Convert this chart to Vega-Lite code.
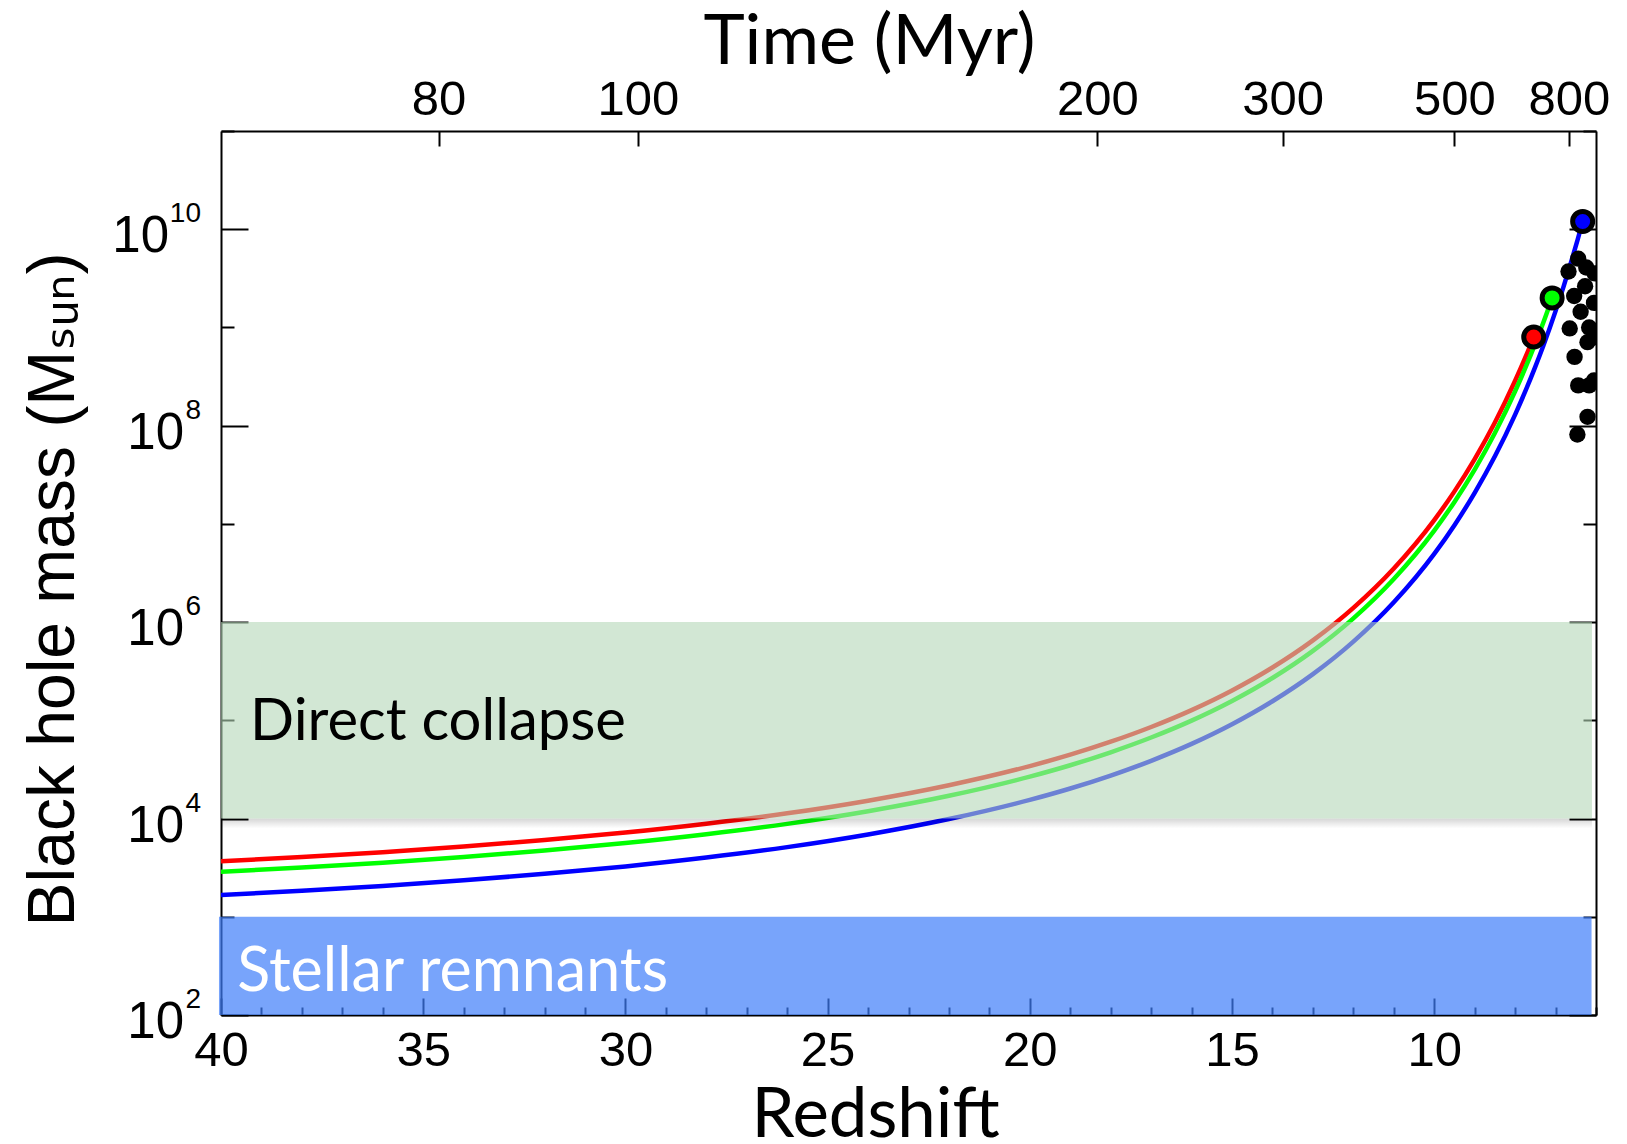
{
  "$schema": "https://vega.github.io/schema/vega-lite/v6.json",
  "width": 1375,
  "height": 884,
  "autosize": {"type": "none"},
  "padding": {"left": 221, "top": 131, "right": 31, "bottom": 129},
  "background": "white",
  "config": {
    "view": {"stroke": null},
    "axis": {
      "domainColor": "#000000",
      "domainWidth": 2,
      "tickColor": "#000000",
      "tickWidth": 2,
      "labelColor": "#000000",
      "labelFont": "Liberation Sans",
      "labelFontSize": 49,
      "labelFlush": false,
      "labelOverlap": false,
      "grid": false,
      "titleColor": "#000000",
      "titleFontWeight": "normal"
    }
  },
  "datasets": {
    "tracks": [
      {"quasar": "ULAS J1342+0928", "z": 40, "logM": 3.565},
      {"quasar": "ULAS J1342+0928", "z": 38, "logM": 3.609},
      {"quasar": "ULAS J1342+0928", "z": 36, "logM": 3.658},
      {"quasar": "ULAS J1342+0928", "z": 34, "logM": 3.715},
      {"quasar": "ULAS J1342+0928", "z": 32, "logM": 3.781},
      {"quasar": "ULAS J1342+0928", "z": 30, "logM": 3.857},
      {"quasar": "ULAS J1342+0928", "z": 28, "logM": 3.947},
      {"quasar": "ULAS J1342+0928", "z": 26, "logM": 4.053},
      {"quasar": "ULAS J1342+0928", "z": 24, "logM": 4.182},
      {"quasar": "ULAS J1342+0928", "z": 22, "logM": 4.339},
      {"quasar": "ULAS J1342+0928", "z": 20, "logM": 4.534},
      {"quasar": "ULAS J1342+0928", "z": 19, "logM": 4.650},
      {"quasar": "ULAS J1342+0928", "z": 18, "logM": 4.782},
      {"quasar": "ULAS J1342+0928", "z": 17, "logM": 4.932},
      {"quasar": "ULAS J1342+0928", "z": 16, "logM": 5.104},
      {"quasar": "ULAS J1342+0928", "z": 15, "logM": 5.304},
      {"quasar": "ULAS J1342+0928", "z": 14, "logM": 5.538},
      {"quasar": "ULAS J1342+0928", "z": 13, "logM": 5.814},
      {"quasar": "ULAS J1342+0928", "z": 12, "logM": 6.145},
      {"quasar": "ULAS J1342+0928", "z": 11, "logM": 6.546},
      {"quasar": "ULAS J1342+0928", "z": 10, "logM": 7.039},
      {"quasar": "ULAS J1342+0928", "z": 9.5, "logM": 7.331},
      {"quasar": "ULAS J1342+0928", "z": 9, "logM": 7.660},
      {"quasar": "ULAS J1342+0928", "z": 8.5, "logM": 8.032},
      {"quasar": "ULAS J1342+0928", "z": 8, "logM": 8.457},
      {"quasar": "ULAS J1342+0928", "z": 7.75, "logM": 8.692},
      {"quasar": "ULAS J1342+0928", "z": 7.54, "logM": 8.903},
      {"quasar": "ULAS J1120+0641", "z": 40, "logM": 3.458},
      {"quasar": "ULAS J1120+0641", "z": 38, "logM": 3.502},
      {"quasar": "ULAS J1120+0641", "z": 36, "logM": 3.551},
      {"quasar": "ULAS J1120+0641", "z": 34, "logM": 3.608},
      {"quasar": "ULAS J1120+0641", "z": 32, "logM": 3.674},
      {"quasar": "ULAS J1120+0641", "z": 30, "logM": 3.750},
      {"quasar": "ULAS J1120+0641", "z": 28, "logM": 3.840},
      {"quasar": "ULAS J1120+0641", "z": 26, "logM": 3.946},
      {"quasar": "ULAS J1120+0641", "z": 24, "logM": 4.075},
      {"quasar": "ULAS J1120+0641", "z": 22, "logM": 4.232},
      {"quasar": "ULAS J1120+0641", "z": 20, "logM": 4.427},
      {"quasar": "ULAS J1120+0641", "z": 19, "logM": 4.543},
      {"quasar": "ULAS J1120+0641", "z": 18, "logM": 4.675},
      {"quasar": "ULAS J1120+0641", "z": 17, "logM": 4.825},
      {"quasar": "ULAS J1120+0641", "z": 16, "logM": 4.997},
      {"quasar": "ULAS J1120+0641", "z": 15, "logM": 5.197},
      {"quasar": "ULAS J1120+0641", "z": 14, "logM": 5.431},
      {"quasar": "ULAS J1120+0641", "z": 13, "logM": 5.707},
      {"quasar": "ULAS J1120+0641", "z": 12, "logM": 6.038},
      {"quasar": "ULAS J1120+0641", "z": 11, "logM": 6.439},
      {"quasar": "ULAS J1120+0641", "z": 10, "logM": 6.932},
      {"quasar": "ULAS J1120+0641", "z": 9.5, "logM": 7.224},
      {"quasar": "ULAS J1120+0641", "z": 9, "logM": 7.553},
      {"quasar": "ULAS J1120+0641", "z": 8.5, "logM": 7.925},
      {"quasar": "ULAS J1120+0641", "z": 8, "logM": 8.350},
      {"quasar": "ULAS J1120+0641", "z": 7.75, "logM": 8.585},
      {"quasar": "ULAS J1120+0641", "z": 7.5, "logM": 8.838},
      {"quasar": "ULAS J1120+0641", "z": 7.3, "logM": 9.053},
      {"quasar": "ULAS J1120+0641", "z": 7.085, "logM": 9.301},
      {"quasar": "SDSS J0100+2802", "z": 40, "logM": 3.221},
      {"quasar": "SDSS J0100+2802", "z": 38, "logM": 3.265},
      {"quasar": "SDSS J0100+2802", "z": 36, "logM": 3.314},
      {"quasar": "SDSS J0100+2802", "z": 34, "logM": 3.371},
      {"quasar": "SDSS J0100+2802", "z": 32, "logM": 3.437},
      {"quasar": "SDSS J0100+2802", "z": 30, "logM": 3.513},
      {"quasar": "SDSS J0100+2802", "z": 28, "logM": 3.603},
      {"quasar": "SDSS J0100+2802", "z": 26, "logM": 3.709},
      {"quasar": "SDSS J0100+2802", "z": 24, "logM": 3.838},
      {"quasar": "SDSS J0100+2802", "z": 22, "logM": 3.995},
      {"quasar": "SDSS J0100+2802", "z": 20, "logM": 4.190},
      {"quasar": "SDSS J0100+2802", "z": 19, "logM": 4.306},
      {"quasar": "SDSS J0100+2802", "z": 18, "logM": 4.438},
      {"quasar": "SDSS J0100+2802", "z": 17, "logM": 4.588},
      {"quasar": "SDSS J0100+2802", "z": 16, "logM": 4.760},
      {"quasar": "SDSS J0100+2802", "z": 15, "logM": 4.960},
      {"quasar": "SDSS J0100+2802", "z": 14, "logM": 5.194},
      {"quasar": "SDSS J0100+2802", "z": 13, "logM": 5.470},
      {"quasar": "SDSS J0100+2802", "z": 12, "logM": 5.801},
      {"quasar": "SDSS J0100+2802", "z": 11, "logM": 6.202},
      {"quasar": "SDSS J0100+2802", "z": 10, "logM": 6.695},
      {"quasar": "SDSS J0100+2802", "z": 9.5, "logM": 6.987},
      {"quasar": "SDSS J0100+2802", "z": 9, "logM": 7.316},
      {"quasar": "SDSS J0100+2802", "z": 8.5, "logM": 7.688},
      {"quasar": "SDSS J0100+2802", "z": 8, "logM": 8.113},
      {"quasar": "SDSS J0100+2802", "z": 7.75, "logM": 8.348},
      {"quasar": "SDSS J0100+2802", "z": 7.5, "logM": 8.601},
      {"quasar": "SDSS J0100+2802", "z": 7.3, "logM": 8.816},
      {"quasar": "SDSS J0100+2802", "z": 7, "logM": 9.166},
      {"quasar": "SDSS J0100+2802", "z": 6.8, "logM": 9.418},
      {"quasar": "SDSS J0100+2802", "z": 6.6, "logM": 9.687},
      {"quasar": "SDSS J0100+2802", "z": 6.45, "logM": 9.900},
      {"quasar": "SDSS J0100+2802", "z": 6.33, "logM": 10.079}
    ],
    "hosts": [
      {"quasar": "ULAS J1342+0928", "z": 7.54, "logM": 8.903},
      {"quasar": "ULAS J1120+0641", "z": 7.085, "logM": 9.301},
      {"quasar": "SDSS J0100+2802", "z": 6.33, "logM": 10.079}
    ],
    "sample": [
      {"z": 6.44, "logM": 9.70},
      {"z": 6.68, "logM": 9.57},
      {"z": 6.24, "logM": 9.61},
      {"z": 6.27, "logM": 9.42},
      {"z": 6.54, "logM": 9.32},
      {"z": 6.38, "logM": 9.16},
      {"z": 6.17, "logM": 9.00},
      {"z": 6.65, "logM": 8.99},
      {"z": 6.21, "logM": 8.85},
      {"z": 6.53, "logM": 8.70},
      {"z": 6.44, "logM": 8.41},
      {"z": 6.17, "logM": 8.41},
      {"z": 6.21, "logM": 8.09},
      {"z": 6.46, "logM": 7.91},
      {"z": 6.03, "logM": 9.55},
      {"z": 6.05, "logM": 9.25},
      {"z": 6.04, "logM": 8.90},
      {"z": 6.05, "logM": 8.46}
    ],
    "seeds": [
      {"seed": "Direct collapse", "lo": 4, "hi": 6},
      {"seed": "Stellar remnants", "lo": 2, "hi": 3}
    ],
    "decades": [
      {"logM": 2, "base": "10", "exp": "2"},
      {"logM": 4, "base": "10", "exp": "4"},
      {"logM": 6, "base": "10", "exp": "6"},
      {"logM": 8, "base": "10", "exp": "8"},
      {"logM": 10, "base": "10", "exp": "10"}
    ]
  },
  "layer": [
    {
      "data": {"name": "tracks"},
      "mark": {"type": "line", "strokeWidth": 4.5, "interpolate": "monotone", "clip": true},
      "encoding": {
        "x": {
          "field": "z", "type": "quantitative",
          "scale": {"domain": [40, 6]},
          "axis": {
            "orient": "bottom",
            "values": [6, 7, 8, 9, 10, 11, 12, 13, 14, 15, 16, 17, 18, 19, 20, 21, 22, 23, 24, 25, 26, 27, 28, 29, 30, 31, 32, 33, 34, 35, 36, 37, 38, 39, 40],
            "labelExpr": "datum.value % 5 === 0 ? datum.label : ''",
            "tickSize": {"condition": {"test": "datum.value % 5 === 0", "value": -17}, "value": -8},
            "labelPadding": 67,
            "labelBaseline": "alphabetic",
            "title": "Redshift",
            "titleFont": "Lato",
            "titleFontSize": 69,
            "titleAlign": "center",
            "titleBaseline": "alphabetic",
            "titleX": 654,
            "titleY": 121
          }
        },
        "y": {
          "field": "logM", "type": "quantitative",
          "scale": {"domain": [2, 11]},
          "axis": {
            "orient": "left",
            "values": [2, 3, 4, 5, 6, 7, 8, 9, 10, 11],
            "labels": false,
            "tickSize": {"condition": {"test": "datum.value % 2 === 0", "value": -27}, "value": -13},
            "title": "Black hole mass (Mₛᵤₙ)",
            "titleFont": "Liberation Sans, DejaVu Sans",
            "titleFontSize": 66,
            "titleAngle": 270,
            "titleAlign": "center",
            "titleBaseline": "alphabetic",
            "titleX": -148,
            "titleY": 458
          }
        },
        "color": {
          "field": "quasar", "type": "nominal",
          "scale": {"domain": ["ULAS J1342+0928", "ULAS J1120+0641", "SDSS J0100+2802"], "range": ["#ff0000", "#00ff00", "#0000ff"]},
          "legend": null
        },
        "order": {"field": "z", "sort": "descending"}
      }
    },
    {
      "data": {"values": [{"edge": "shadow"}]},
      "mark": {
        "type": "rect",
        "fill": {
          "gradient": "linear", "x1": 0, "y1": 0, "x2": 0, "y2": 1,
          "stops": [
            {"offset": 0, "color": "rgba(0,0,0,0.16)"},
            {"offset": 1, "color": "rgba(0,0,0,0)"}
          ]
        }
      },
      "encoding": {
        "x": {"datum": 40, "type": "quantitative", "scale": {"domain": [40, 6]}, "axis": null},
        "x2": {"datum": 6.1},
        "y": {"datum": 4, "type": "quantitative", "scale": {"domain": [2, 11]}, "axis": null},
        "y2": {"datum": 3.9}
      }
    },
    {
      "data": {"name": "seeds"},
      "transform": [{"filter": "datum.seed === 'Direct collapse'"}],
      "mark": {"type": "rect", "fill": "#b4d7b7", "opacity": 0.6},
      "encoding": {
        "x": {
          "datum": 40, "type": "quantitative",
          "scale": {"domain": [40, 6]},
          "axis": {
            "orient": "top",
            "values": [34.62, 29.69, 18.33, 13.75, 9.5, 6.67],
            "labelExpr": "datum.value > 34 ? '80' : datum.value > 29 ? '100' : datum.value > 18 ? '200' : datum.value > 13 ? '300' : datum.value > 9 ? '500' : '800'",
            "tickSize": -15,
            "labelPadding": 32,
            "labelBaseline": "alphabetic",
            "title": "Time (Myr)",
            "titleFont": "Lato",
            "titleFontSize": 70,
            "titleAlign": "center",
            "titleBaseline": "alphabetic",
            "titleX": 648,
            "titleY": -68
          }
        },
        "x2": {"datum": 6.1},
        "y": {
          "field": "hi", "type": "quantitative",
          "scale": {"domain": [2, 11]},
          "axis": {
            "orient": "right",
            "values": [2, 3, 4, 5, 6, 7, 8, 9, 10, 11],
            "labels": false,
            "tickSize": {"condition": {"test": "datum.value % 2 === 0", "value": -27}, "value": -13},
            "title": null
          }
        },
        "y2": {"field": "lo"}
      }
    },
    {
      "data": {"name": "seeds"},
      "transform": [{"filter": "datum.seed === 'Stellar remnants'"}],
      "mark": {"type": "rect", "fill": "#3f7ef9", "opacity": 0.7},
      "encoding": {
        "x": {"datum": 40.05, "type": "quantitative", "scale": {"domain": [40, 6]}, "axis": null},
        "x2": {"datum": 6.11},
        "y": {"field": "hi", "type": "quantitative", "scale": {"domain": [2, 11]}, "axis": null},
        "y2": {"field": "lo"}
      }
    },
    {
      "data": {"name": "seeds"},
      "transform": [{"filter": "datum.seed === 'Direct collapse'"}],
      "mark": {"type": "text", "font": "Lato", "fontSize": 58, "align": "left", "baseline": "alphabetic", "color": "#000000"},
      "encoding": {
        "x": {"datum": 39.28, "type": "quantitative", "scale": {"domain": [40, 6]}, "axis": null},
        "y": {"datum": 4.8, "type": "quantitative", "scale": {"domain": [2, 11]}, "axis": null},
        "text": {"field": "seed"}
      }
    },
    {
      "data": {"name": "seeds"},
      "transform": [{"filter": "datum.seed === 'Stellar remnants'"}],
      "mark": {"type": "text", "font": "Lato", "fontSize": 61, "align": "left", "baseline": "alphabetic", "color": "#ffffff"},
      "encoding": {
        "x": {"datum": 39.6, "type": "quantitative", "scale": {"domain": [40, 6]}, "axis": null},
        "y": {"datum": 2.245, "type": "quantitative", "scale": {"domain": [2, 11]}, "axis": null},
        "text": {"field": "seed"}
      }
    },
    {
      "data": {"name": "sample"},
      "mark": {"type": "point", "filled": true, "opacity": 1, "color": "#000000", "size": 268, "clip": true},
      "encoding": {
        "x": {"field": "z", "type": "quantitative", "scale": {"domain": [40, 6]}, "axis": null},
        "y": {"field": "logM", "type": "quantitative", "scale": {"domain": [2, 11]}, "axis": null}
      }
    },
    {
      "data": {"name": "hosts"},
      "mark": {"type": "point", "filled": true, "opacity": 1, "stroke": "#000000", "strokeWidth": 5, "size": 400, "clip": true},
      "encoding": {
        "x": {"field": "z", "type": "quantitative", "scale": {"domain": [40, 6]}, "axis": null},
        "y": {"field": "logM", "type": "quantitative", "scale": {"domain": [2, 11]}, "axis": null},
        "color": {"field": "quasar", "type": "nominal", "legend": null}
      }
    },
    {
      "data": {"name": "decades"},
      "transform": [{"filter": "datum.logM < 10"}],
      "mark": {"type": "text", "font": "Liberation Sans", "fontSize": 51, "align": "right", "baseline": "alphabetic", "dx": -37, "dy": 23, "color": "#000000"},
      "encoding": {
        "x": {"datum": 40, "type": "quantitative", "scale": {"domain": [40, 6]}, "axis": null},
        "y": {"field": "logM", "type": "quantitative", "scale": {"domain": [2, 11]}, "axis": null},
        "text": {"field": "base"}
      }
    },
    {
      "data": {"name": "decades"},
      "transform": [{"filter": "datum.logM >= 10"}],
      "mark": {"type": "text", "font": "Liberation Sans", "fontSize": 51, "align": "right", "baseline": "alphabetic", "dx": -52, "dy": 23, "color": "#000000"},
      "encoding": {
        "x": {"datum": 40, "type": "quantitative", "scale": {"domain": [40, 6]}, "axis": null},
        "y": {"field": "logM", "type": "quantitative", "scale": {"domain": [2, 11]}, "axis": null},
        "text": {"field": "base"}
      }
    },
    {
      "data": {"name": "decades"},
      "mark": {"type": "text", "font": "Liberation Sans", "fontSize": 28, "align": "right", "baseline": "alphabetic", "dx": -20, "dy": -7, "color": "#000000"},
      "encoding": {
        "x": {"datum": 40, "type": "quantitative", "scale": {"domain": [40, 6]}, "axis": null},
        "y": {"field": "logM", "type": "quantitative", "scale": {"domain": [2, 11]}, "axis": null},
        "text": {"field": "exp"}
      }
    }
  ],
  "resolve": {"axis": {"x": "independent", "y": "independent"}}
}
